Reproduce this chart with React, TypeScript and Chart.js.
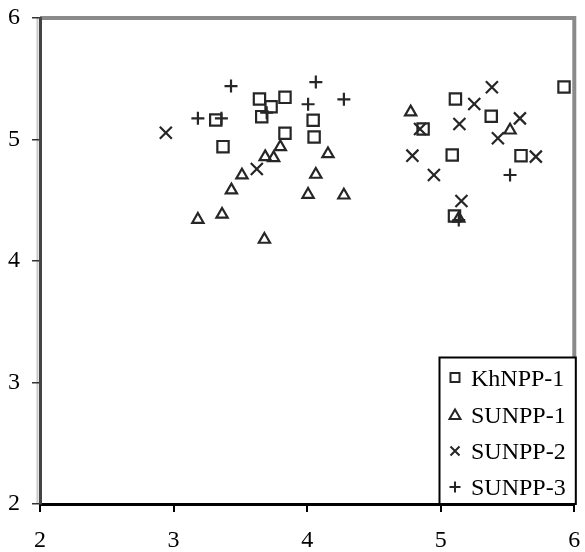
import React, { useEffect, useRef } from "react";
import { Chart, registerables } from "chart.js";

Chart.register(...registerables);

const seriesNames = ["KhNPP-1", "SUNPP-1", "SUNPP-2", "SUNPP-3"];

const khnpp1X = [3.316, 3.643, 3.73, 3.834, 3.66, 3.834, 3.37, 4.045, 4.052, 5.11, 5.378, 4.868, 5.086, 5.601, 5.103, 5.923];
const khnpp1Y = [5.16, 5.333, 5.27, 5.347, 5.188, 5.051, 4.941, 5.158, 5.021, 5.333, 5.191, 5.086, 4.872, 4.867, 4.37, 5.432];

const sunpp1X = [3.512, 3.433, 3.182, 3.363, 3.68, 3.686, 3.749, 3.799, 4.156, 4.065, 4.007, 4.275, 4.775, 5.519, 5.135];
const sunpp1Y = [4.706, 4.583, 4.341, 4.383, 4.177, 4.857, 4.849, 4.939, 4.881, 4.712, 4.547, 4.541, 5.225, 5.076, 4.35];

const sunpp2X = [2.942, 3.623, 5.383, 5.251, 5.14, 4.845, 5.593, 5.428, 4.788, 4.949, 5.155, 5.712];
const sunpp2Y = [5.056, 4.757, 5.43, 5.292, 5.128, 5.086, 5.174, 5.01, 4.867, 4.708, 4.494, 4.859];

const sunpp3X = [3.43, 3.182, 3.358, 3.697, 4.065, 4.007, 4.275, 5.519, 5.135];
const sunpp3Y = [5.44, 5.174, 5.174, 5.221, 5.473, 5.29, 5.331, 4.708, 4.337];

const xTicks = [2, 3, 4, 5, 6];
const yTicks = [2, 3, 4, 5, 6];

const pts = (xs: number[], ys: number[]) => xs.map((x, i) => ({ x, y: ys[i] }));

const INK = "#262626";
const SERIF = '"Liberation Serif", "Times New Roman", serif';

const framePlugin = {
  id: "frame",
  beforeDraw(chart: any) {
    const { ctx, chartArea } = chart;
    const { left, right, top, bottom } = chartArea;
    ctx.save();
    ctx.strokeStyle = "#8a8a8a";
    ctx.lineWidth = 4;
    ctx.beginPath();
    ctx.moveTo(left, top);
    ctx.lineTo(right, top);
    ctx.lineTo(right, bottom);
    ctx.stroke();
    ctx.strokeStyle = "#c8c8c8";
    ctx.lineWidth = 2;
    ctx.beginPath();
    ctx.moveTo(left - 2.5, top);
    ctx.lineTo(left - 2.5, bottom);
    ctx.stroke();
    ctx.restore();
  },
};

function drawMarker(ctx: CanvasRenderingContext2D, kind: string, x: number, y: number) {
  ctx.beginPath();
  if (kind === "rect") {
    ctx.rect(x - 4.5, y - 4.5, 9, 9);
  } else if (kind === "triangle") {
    ctx.moveTo(x, y - 5);
    ctx.lineTo(x + 5.5, y + 4.5);
    ctx.lineTo(x - 5.5, y + 4.5);
    ctx.closePath();
  } else if (kind === "crossRot") {
    ctx.moveTo(x - 4.5, y - 4.5);
    ctx.lineTo(x + 4.5, y + 4.5);
    ctx.moveTo(x + 4.5, y - 4.5);
    ctx.lineTo(x - 4.5, y + 4.5);
  } else {
    ctx.moveTo(x - 5.5, y);
    ctx.lineTo(x + 5.5, y);
    ctx.moveTo(x, y - 5.5);
    ctx.lineTo(x, y + 5.5);
  }
  ctx.stroke();
}

const legendPlugin = {
  id: "boxLegend",
  afterDraw(chart: any) {
    const { ctx, chartArea } = chart;
    const bx = 439.5;
    const by = 357.5;
    const bw = chartArea.right + 1.5 - bx;
    const bh = chartArea.bottom - by;
    ctx.save();
    ctx.fillStyle = "#ffffff";
    ctx.fillRect(bx, by, bw, bh);
    ctx.strokeStyle = "#000000";
    ctx.lineWidth = 2;
    ctx.strokeRect(bx, by, bw, bh);
    const styles = ["rect", "triangle", "crossRot", "cross"];
    const rowY = [377.5, 414.5, 451, 487];
    ctx.font = "24px " + SERIF;
    ctx.textBaseline = "alphabetic";
    ctx.textAlign = "left";
    seriesNames.forEach((name, i) => {
      ctx.strokeStyle = INK;
      ctx.lineWidth = 2;
      drawMarker(ctx, styles[i], 455, rowY[i]);
      ctx.fillStyle = "#000000";
      ctx.fillText(name, 471, rowY[i] + 8);
    });
    ctx.restore();
  },
};

const zeroPad = (s: any) => {
  s.paddingTop = 0;
  s.paddingBottom = 0;
  s.paddingLeft = 0;
  s.paddingRight = 0;
};

export default function App() {
  const ref = useRef<HTMLCanvasElement | null>(null);

  useEffect(() => {
    if (!ref.current) return;
    const common = {
      showLine: false,
      borderColor: INK,
      backgroundColor: "rgba(0,0,0,0)",
      pointBorderColor: INK,
      pointBackgroundColor: "rgba(0,0,0,0)",
      pointBorderWidth: 2.2,
    };
    const tickFont = { family: SERIF, size: 24 };
    const chart = new Chart(ref.current, {
      type: "scatter",
      data: {
        datasets: [
          { ...common, label: seriesNames[0], data: pts(khnpp1X, khnpp1Y), pointStyle: "rect", pointRadius: 8 },
          { ...common, label: seriesNames[1], data: pts(sunpp1X, sunpp1Y), pointStyle: "triangle", pointRadius: 6.5 },
          { ...common, label: seriesNames[2], data: pts(sunpp2X, sunpp2Y), pointStyle: "crossRot", pointRadius: 8.5 },
          { ...common, label: seriesNames[3], data: pts(sunpp3X, sunpp3Y), pointStyle: "cross", pointRadius: 6.5 },
        ],
      },
      options: {
        responsive: false,
        animation: false,
        devicePixelRatio: 1,
        layout: { padding: { top: 18, right: 7, left: 0, bottom: 0 } },
        plugins: { legend: { display: false }, tooltip: { enabled: false } },
        scales: {
          x: {
            type: "linear",
            min: xTicks[0],
            max: xTicks[xTicks.length - 1],
            afterFit: (s: any) => { s.height = 48; zeroPad(s); },
            afterBuildTicks: (s: any) => { s.ticks = xTicks.map((v) => ({ value: v })); },
            ticks: { color: "#000", font: tickFont, padding: 14, maxRotation: 0 },
            grid: { display: true, drawOnChartArea: false, drawTicks: true, tickLength: 8, color: "#000", lineWidth: 2 },
            border: { display: true, color: "#000", width: 3 },
          },
          y: {
            type: "linear",
            min: yTicks[0],
            max: yTicks[yTicks.length - 1],
            afterFit: (s: any) => { s.width = 40; zeroPad(s); },
            afterBuildTicks: (s: any) => { s.ticks = yTicks.map((v) => ({ value: v })); },
            ticks: { color: "#000", font: tickFont, padding: 12 },
            grid: { display: true, drawOnChartArea: false, drawTicks: true, tickLength: 8, color: "#333", lineWidth: 1.5 },
            border: { display: true, color: "#444", width: 3 },
          },
        },
      },
      plugins: [framePlugin, legendPlugin],
    } as any);
    return () => chart.destroy();
  }, []);

  return (
    <div style={{ position: "fixed", left: 0, top: 0, width: 585, height: 552, background: "#fff" }}>
      <canvas ref={ref} width={585} height={552} />
    </div>
  );
}
